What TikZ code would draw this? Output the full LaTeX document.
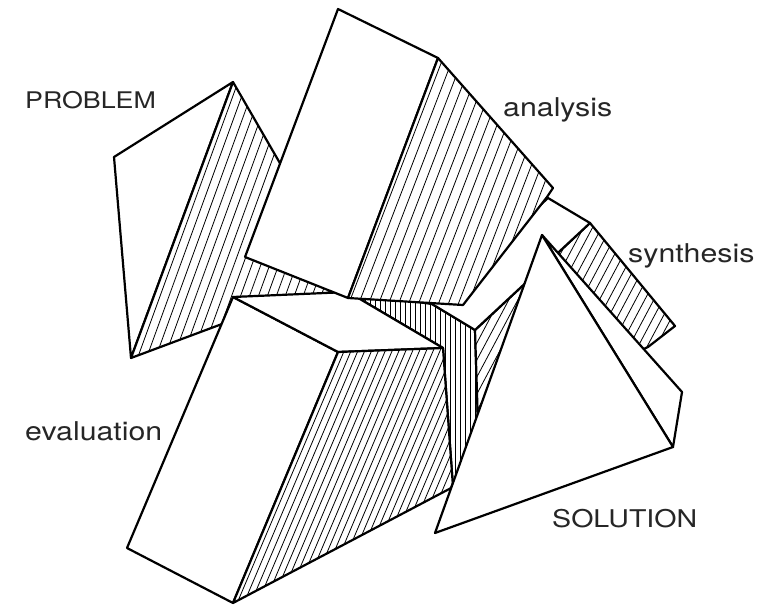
\documentclass[tikz,border=0pt]{standalone}
\usepackage{fontspec}
\setmainfont{TeX Gyre Heros}[FakeStretch=1.17]
\usetikzlibrary{calc}

% white face, clipped parallel lines, outline
\newcommand{\hatchface}[3]{%
	\fill[white] #1;
	\begin{scope}
		\clip #1;
		\foreach \k in {-90,...,90}
			\draw[line width=.8bp,rotate around={#2:(400,300)}] (-200,{300+\k*#3}) -- (1000,{300+\k*#3});
	\end{scope}
	\draw[edge] #1;
}

\begin{document}
\begin{tikzpicture}[x=1bp,y=-1bp,
	edge/.style={draw,line width=2.2bp,line join=round},
	face/.style={edge,preaction={fill=white}},
	lbl/.style={anchor=base west,inner sep=0pt,text=black!85}]
	\useasboundingbox (0,0) rectangle (766,607);

	% PROBLEM
	\draw[face]  (233,82) -- (114,157) -- (131,358) -- cycle;
	\hatchface{(233,82) -- (340,267) -- (330,292) -- (222,324) -- (131,358) -- cycle}{70}{8.4}

	% synthesis
	\hatchface{(348,292) -- (432,304) -- (475,330) -- (478,425) -- (453,488) -- (443,348) -- cycle}{90}{5}
	\hatchface{(475,330) -- (590,223) -- (675,326) -- (648,347) -- (478,425) -- cycle}{62}{8}
	\draw[face]  (432,304) -- (475,330) -- (590,223) -- (548,198) -- cycle;

	% evaluation
	\draw[face]  (233,297) -- (338,352) -- (233,603) -- (127,548) -- cycle;
	\draw[face]  (233,297) -- (348,292) -- (443,348) -- (338,352) -- cycle;
	\hatchface{(338,352) -- (443,348) -- (453,487) -- (233,603) -- cycle}{67}{6.3}

	% analysis
	\draw[face]  (338,9) -- (438,58) -- (348,298) -- (245,257) -- cycle;
	\hatchface{(438,58) -- (553,188) -- (547,197) -- (463,305) -- (348,298) -- cycle}{69}{9.3}

	% SOLUTION
	\draw[face]  (542,235) -- (682,392) -- (673,447) -- cycle;
	\draw[face]  (542,235) -- (435,533) -- (673,447) -- cycle;

	\node[lbl] (PRB) at (25,109)  {\fontsize{23}{27}\selectfont PROBLEM};
	\node[lbl] (ANA) at (503,117) {\fontsize{26}{30}\selectfont analysis};
	\node[lbl] (SYN) at (628,262) {\fontsize{26}{30}\selectfont synthesis};
	\node[lbl] (EVA) at (25,440)  {\fontsize{26}{30}\selectfont evaluation};
	\node[lbl] (SOL) at (552,527) {\fontsize{24.5}{28}\selectfont SOLUTION};
\end{tikzpicture}
\end{document}
